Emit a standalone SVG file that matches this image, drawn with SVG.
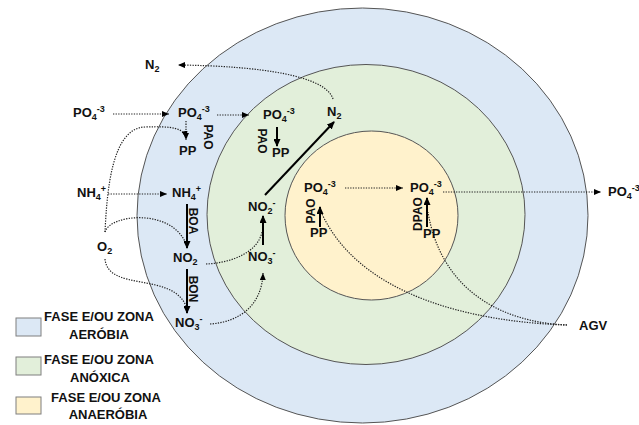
<svg xmlns="http://www.w3.org/2000/svg" width="639" height="425" viewBox="0 0 639 425">
<style>
.t{font-family:"Liberation Sans","DejaVu Sans",sans-serif;font-weight:bold;font-size:13px;fill:#111}
.r{font-family:"Liberation Sans","DejaVu Sans",sans-serif;font-weight:bold;font-size:12px;fill:#111}
.s{font-size:9px}
.dot{fill:none;stroke:#222;stroke-width:1.2;stroke-dasharray:1.3 1.3}
.sol{fill:none;stroke:#000;stroke-width:2}
.zone{stroke:#555;stroke-width:1}
.leg{stroke:#7f7f7f;stroke-width:1}
</style>
<defs>
<marker id="ah" markerUnits="userSpaceOnUse" markerWidth="7" markerHeight="6" refX="7" refY="3" orient="auto"><path d="M0,0 L7,3 L0,6 z" fill="#000"/></marker>
<marker id="ahs" markerUnits="userSpaceOnUse" markerWidth="8" markerHeight="7" refX="7" refY="3.5" orient="auto"><path d="M0,0 L8,3.5 L0,7 z" fill="#000"/></marker>
</defs>
<g id="zones">
<ellipse id="zone-aerobia" class="zone" cx="362.5" cy="215.5" rx="225.5" ry="207.5" fill="#dce8f5"/>
<ellipse id="zone-anoxica" class="zone" cx="366" cy="214.5" rx="159" ry="150" fill="#e2efda"/>
<ellipse id="zone-anaerobia" class="zone" cx="371.5" cy="215.5" rx="86.5" ry="84.5" fill="#fff2cc"/>
</g>
<g id="connectors">
<path class="dot" d="M333,99 C326,76 262,66 178,65" marker-end="url(#ah)"/>
<path class="dot" d="M113,114 L169,114" marker-end="url(#ah)"/>
<path class="dot" d="M217,115 L249,115" marker-end="url(#ah)"/>
<path class="dot" d="M186,121 L186,140" marker-end="url(#ah)"/>
<path class="dot" d="M105,232 C107,190 112,128 145,127 C172,126 184,128 186,138" marker-end="url(#ah)"/>
<path class="dot" d="M108,194 L167,194" marker-end="url(#ah)"/>
<path class="dot" d="M105,232 C110,214 172,208 186,244"/>
<path class="dot" d="M105,259 C108,292 172,272 186,306"/>
<path class="dot" d="M206,264 C232,263 258,252 262,232"/>
<path class="dot" d="M210,324 C240,322 262,305 263,273" marker-end="url(#ah)"/>
<path class="dot" d="M345,188 L403,188" marker-end="url(#ah)"/>
<path class="dot" d="M443,192 L601,192" marker-end="url(#ah)"/>
<path class="dot" d="M567,325 C470,322 360,295 322,214"/>
<path class="dot" d="M567,325 C495,322 440,285 428,212"/>
<path class="sol" d="M277,127 L277,146" marker-end="url(#ahs)"/>
<path class="sol" d="M187,204 L187,248" marker-end="url(#ahs)"/>
<path class="sol" d="M187,269 L187,313" marker-end="url(#ahs)"/>
<path class="sol" d="M263,245 L263,216" marker-end="url(#ahs)"/>
<path class="sol" d="M265,195 L334,122" marker-end="url(#ahs)"/>
<path class="sol" d="M320,227 L320,207" marker-end="url(#ahs)"/>
<path class="sol" d="M427,227 L427,198" marker-end="url(#ahs)"/>
</g>
<g id="n-n2-out"><text class="t" x="145" y="69">N<tspan class="s" dy="3">2</tspan></text></g>
<g id="n-po4-in"><text class="t" x="73" y="117">PO<tspan class="s" dy="3">4</tspan><tspan class="s" dy="-8">-3</tspan></text></g>
<g id="n-po4-aer"><text class="t" x="178" y="117">PO<tspan class="s" dy="3">4</tspan><tspan class="s" dy="-8">-3</tspan></text></g>
<g id="n-pp-aer"><text class="t" x="179" y="155">PP</text></g>
<g id="n-pao-aer"><text class="r" transform="translate(208,137) rotate(90)" text-anchor="middle" dy="4">PAO</text></g>
<g id="n-nh4-in"><text class="t" x="77" y="197">NH<tspan class="s" dy="3">4</tspan><tspan class="s" dy="-8">+</tspan></text></g>
<g id="n-nh4-aer"><text class="t" x="172" y="197">NH<tspan class="s" dy="3">4</tspan><tspan class="s" dy="-8">+</tspan></text></g>
<g id="n-boa"><text class="r" transform="translate(193,221) rotate(90)" text-anchor="middle" dy="4">BOA</text></g>
<g id="n-o2"><text class="t" x="97" y="251">O<tspan class="s" dy="3">2</tspan></text></g>
<g id="n-no2-aer"><text class="t" x="173" y="262">NO<tspan class="s" dy="3">2</tspan></text></g>
<g id="n-bon"><text class="r" transform="translate(193,289) rotate(90)" text-anchor="middle" dy="4">BON</text></g>
<g id="n-no3-aer"><text class="t" x="175" y="327">NO<tspan class="s" dy="3">3</tspan><tspan class="s" dy="-8">-</tspan></text></g>
<g id="n-po4-anox"><text class="t" x="263" y="119">PO<tspan class="s" dy="3">4</tspan><tspan class="s" dy="-8">-3</tspan></text></g>
<g id="n-pp-anox"><text class="t" x="272" y="157">PP</text></g>
<g id="n-pao-anox"><text class="r" transform="translate(262,141) rotate(90)" text-anchor="middle" dy="4">PAO</text></g>
<g id="n-n2-anox"><text class="t" x="327" y="116">N<tspan class="s" dy="3">2</tspan></text></g>
<g id="n-no2-anox"><text class="t" x="248" y="211">NO<tspan class="s" dy="3">2</tspan><tspan class="s" dy="-8">-</tspan></text></g>
<g id="n-no3-anox"><text class="t" x="248" y="261">NO<tspan class="s" dy="3">3</tspan><tspan class="s" dy="-8">-</tspan></text></g>
<g id="n-po4-ana1"><text class="t" x="304" y="192">PO<tspan class="s" dy="3">4</tspan><tspan class="s" dy="-8">-3</tspan></text></g>
<g id="n-pp-ana1"><text class="t" x="310" y="237">PP</text></g>
<g id="n-pao-ana"><text class="r" transform="translate(311,211) rotate(-90)" text-anchor="middle" dy="4">PAO</text></g>
<g id="n-po4-ana2"><text class="t" x="410" y="192">PO<tspan class="s" dy="3">4</tspan><tspan class="s" dy="-8">-3</tspan></text></g>
<g id="n-dpao"><text class="r" transform="translate(418,214) rotate(-90)" text-anchor="middle" dy="4">DPAO</text></g>
<g id="n-pp-ana2"><text class="t" x="423" y="238">PP</text></g>
<g id="n-po4-out"><text class="t" x="608" y="196">PO<tspan class="s" dy="3">4</tspan><tspan class="s" dy="-8">-3</tspan></text></g>
<g id="n-agv"><text class="t" x="579" y="330">AGV</text></g>
<g id="legend">
<rect class="leg" x="16" y="318" width="25" height="18" fill="#dce8f5"/>
<text class="t" x="99" y="321" text-anchor="middle">FASE E/OU ZONA</text>
<text class="t" x="99" y="339" text-anchor="middle">AERÓBIA</text>
<rect class="leg" x="16" y="357" width="25" height="18" fill="#e2efda"/>
<text class="t" x="99" y="364" text-anchor="middle">FASE E/OU ZONA</text>
<text class="t" x="100" y="382" text-anchor="middle">ANÓXICA</text>
<rect class="leg" x="16" y="397" width="25" height="17" fill="#fff2cc"/>
<text class="t" x="106" y="402" text-anchor="middle">FASE E/OU ZONA</text>
<text class="t" x="108" y="419" text-anchor="middle">ANAERÓBIA</text>
</g>
</svg>
